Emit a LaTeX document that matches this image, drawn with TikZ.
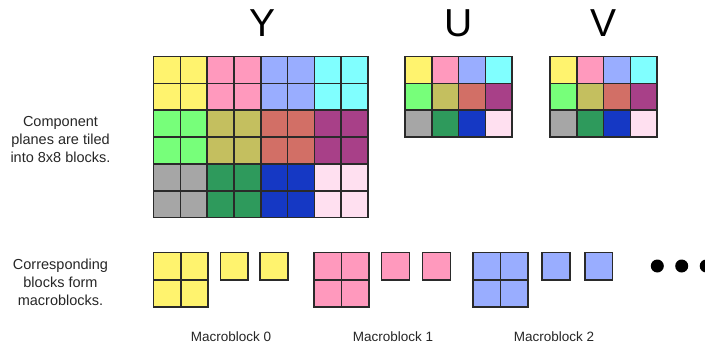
\documentclass[tikz,border=0pt]{standalone}
\usepackage{fontspec}
\setmainfont{Liberation Sans}
\usepackage{tikz}
\usetikzlibrary{positioning}
\definecolor{edge}{HTML}{2A2A2A}
\definecolor{blk0}{HTML}{FFF36E}
\definecolor{blk1}{HTML}{FF99BD}
\definecolor{blk2}{HTML}{99ADFF}
\definecolor{blk3}{HTML}{80FFFF}
\definecolor{blk4}{HTML}{77FF7A}
\definecolor{blk5}{HTML}{C4BF5F}
\definecolor{blk6}{HTML}{D26F66}
\definecolor{blk7}{HTML}{A84088}
\definecolor{blk8}{HTML}{A6A6A6}
\definecolor{blk9}{HTML}{2E9A5C}
\definecolor{blk10}{HTML}{1538C4}
\definecolor{blk11}{HTML}{FFE0F0}

\begin{document}
\begin{tikzpicture}[
    x=1pt, y=-1pt,
    cell/.style={rectangle, draw=edge, line width=1.6pt, minimum size=26.8pt,
                 inner sep=0pt, outer sep=0pt},
    mbcell/.style={cell, minimum size=27.4pt},
    plane/.style={font=\fontsize{39}{39}\selectfont, inner sep=0pt},
    note/.style={font=\fontsize{14.5}{18}\selectfont, align=center, text=black!85},
    mblabel/.style={font=\fontsize{13.5}{16}\selectfont, text=black!85},
    dot/.style={circle, fill=black, minimum size=13pt, inner sep=0pt}
]
    \useasboundingbox (0,0) rectangle (705,345);

    % component planes
    \foreach \r in {0,...,5}
        \foreach \c in {0,...,7} {
            \pgfmathtruncatemacro\b{int(\r/2)*4+int(\c/2)}
            \node[cell, fill=blk\b] (y-\r-\c) at ({153.5+(\c+.5)*26.8}, {56.7+(\r+.5)*26.8}) {};
        }
    \foreach \r in {0,...,2}
        \foreach \c in {0,...,3} {
            \pgfmathtruncatemacro\b{\r*4+\c}
            \node[cell, fill=blk\b] (u-\r-\c) at ({405+(\c+.5)*26.8}, {56.7+(\r+.5)*26.8}) {};
            \node[cell, fill=blk\b] (v-\r-\c) at ({550+(\c+.5)*26.8}, {56.7+(\r+.5)*26.8}) {};
        }

    \node[plane] (ylabel) at (262.7,23.3) {Y};
    \node[plane] (ulabel) at (459,23.3) {U};
    \node[plane] (vlabel) at (603.3,23.3) {V};

    \node[note] (tiled) at (60.5,140) {Component\\planes are tiled\\into 8x8 blocks.};
    \node[note] (form) at (60.5,282.5) {Corresponding\\blocks form\\macroblocks.};

    % macroblocks: 2x2 luma + one U + one V
    \foreach \m/\x/\sa/\sb/\lx in {0/153.4/220.3/260.2/231, 1/314/381.5/422.5/393, 2/473.2/542/584.8/554} {
        \foreach \r in {0,1}
            \foreach \c in {0,1}
                \node[mbcell, fill=blk\m] (mb\m-\r-\c) at ({\x+(\c+.5)*27.4}, {252.3+(\r+.5)*27.4}) {};
        \node[mbcell, fill=blk\m, minimum size=27.8pt] (mb\m-u) at ({\sa+13.9}, 266.2) {};
        \node[mbcell, fill=blk\m, minimum size=27.8pt] (mb\m-v) at ({\sb+13.9}, 266.2) {};
        \node[mblabel] (mb\m-label) at (\lx,336.7) {Macroblock \m};
    }

    \node[dot] (dot1) at (657.3,266) {};
    \node[dot] (dot2) at (681.7,266) {};
    \node[dot] (dot3) at (706.2,266) {};
\end{tikzpicture}
\end{document}
